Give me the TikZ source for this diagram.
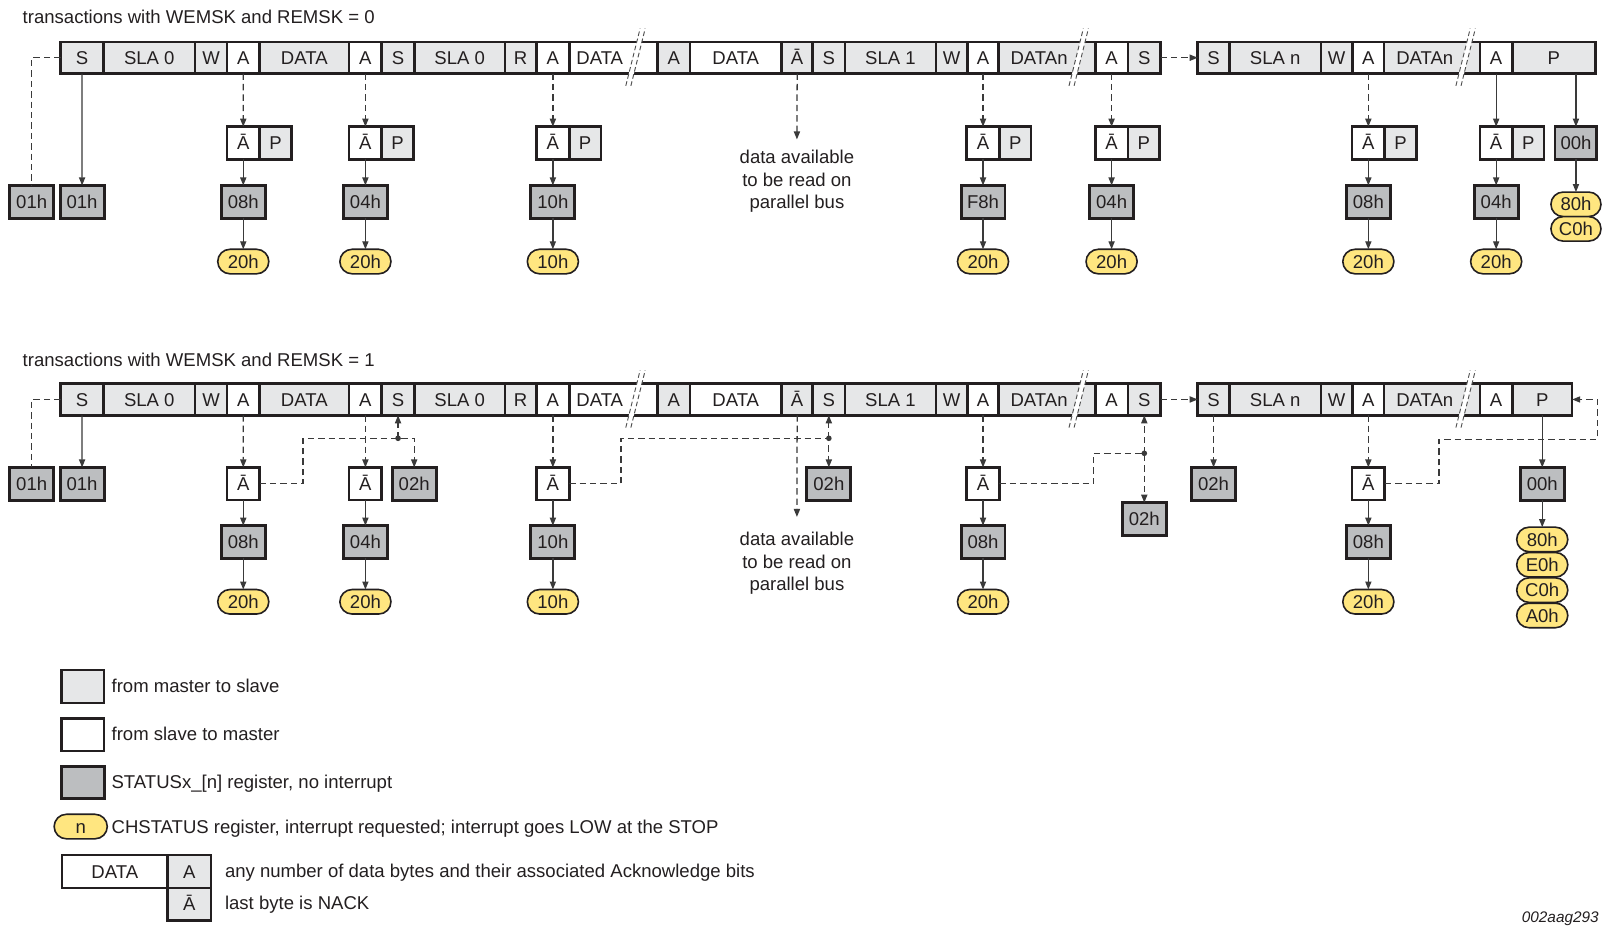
\documentclass[tikz,border=0pt]{standalone}
\usepackage{fontspec}
\setmainfont{Liberation Sans}
\usetikzlibrary{arrows.meta,shapes.misc}
\definecolor{lgray}{HTML}{E6E7E8}
\definecolor{sgray}{HTML}{BCBEC0}
\definecolor{yel}{HTML}{FFE680}
\definecolor{ink}{HTML}{231F20}
\definecolor{wirec}{HTML}{3A3A3A}
\definecolor{brkc}{HTML}{505050}
\newcommand\fs{\fontsize{13.9}{16.85}\selectfont}
\tikzset{
  cellbox/.style={draw=ink, text=ink, line width=1.9pt, rectangle, inner sep=0pt, outer sep=0pt,
    minimum height={31*0.766pt}, text height=9.95pt, text depth=0pt, font=\fs},
  abox/.style={cellbox, fill=white, minimum width={32*0.766pt}, minimum height={32*0.766pt}},
  pbox/.style={cellbox, fill=lgray, minimum width={31*0.766pt}, minimum height={32*0.766pt}, anchor=west},
  stat/.style={cellbox, fill=sgray, line width=2.2pt, minimum width={43*0.766pt}, minimum height={32*0.766pt}},
  oval/.style={draw=ink, text=ink, line width=1.2pt, fill=yel, rounded rectangle, inner sep=0pt, outer sep=0pt,
    minimum width={50*0.766pt}, minimum height={24*0.766pt}, text height=9.95pt, text depth=0pt, font=\fs},
  wire/.style={draw=wirec, line width=0.95pt},
  arr/.style={wire, -{Triangle[length=6pt,width=4.6pt]}},
  dsh/.style={dash pattern=on 4.8pt off 3pt},
  lbl/.style={text=ink, font=\fs, inner sep=0pt, anchor=west, text height=9.95pt, text depth=0pt},
  para/.style={text=ink, font=\fs, inner sep=0pt, align=center},
  brkline/.style={draw=brkc, line width=0.7pt, dash pattern=on 3.5pt off 2pt},
}
% break mark: #1 x centre, #2 row centre y
\newcommand\brk[2]{%
  \fill[white] (#1-6.75,#2+18.5) -- (#1+2.5,#2-18.5) -- (#1+7.5,#2-18.5) -- (#1-1.75,#2+18.5) -- cycle;
  \draw[brkline] (#1-9,#2+27.5) -- (#1+5,#2-28.5);
  \draw[brkline] (#1-4,#2+27.5) -- (#1+10,#2-28.5);
}
% a transaction row: #1 prefix, #2 centre y, #3 right end of P
\newcommand\mkrow[3]{%
  \foreach \n/\xa/\xb/\fc/\tx in {1/59.3/101.4/lgray/S, 2/101.4/190.8/lgray/SLA 0, 3/190.8/222.3/lgray/W,
      4/222.3/253.9/white/A, 5/253.9/341.7/lgray/DATA, 6/341.7/373.6/white/A, 7/373.6/405.6/lgray/S,
      8/405.6/494.2/lgray/SLA 0, 9/494.2/525/lgray/R, 10/525/557.3/white/A, 11/557.3/643.7/white/{},
      12/643.7/675.2/lgray/A, 13/675.2/765/white/DATA, 14/765/795.5/lgray/Ā, 15/795.5/827/lgray/S,
      16/827/916/lgray/SLA 1, 17/916/947/lgray/W, 18/947/977.3/white/A, 19/977.3/1072/lgray/{},
      20/1072/1104/white/A, 21/1104/1136/lgray/S, 22/1172.3/1203.3/lgray/S, 23/1203.3/1292.9/lgray/SLA n,
      24/1292.9/1323.8/lgray/W, 25/1323.8/1354.8/white/A, 26/1354.8/1448.6/lgray/{}, 27/1448.6/1480.2/white/A,
      28/1480.2/#3/lgray/P}
  {\node[cellbox, fill=\fc, minimum width={(\xb-\xa)*0.766pt}] (#1\n) at ({(\xa+\xb)/2},#2) {\tx};}
  \node[lbl, anchor=center] (#1d11) at (587,#2) {DATA};
  \node[lbl, anchor=center] (#1d19) at (1017,#2) {DATAn};
  \node[lbl, anchor=center] (#1d26) at (1394.5,#2) {DATAn};
  \brk{621.5}{#2}
  \brk{1055.3}{#2}
  \brk{1434}{#2}
}
\begin{document}
\begin{tikzpicture}[x=0.766pt,y=-0.766pt]
\useasboundingbox (0,0) rectangle (1568,908.3);
\fill[white] (0,0) rectangle (1568,908.3);

% ---------------- titles
\node[lbl] (title1) at (22,17) {transactions with WEMSK and REMSK = 0};
\node[lbl] (title2) at (22,352) {transactions with WEMSK and REMSK = 1};

% ---------------- upper transaction
\mkrow{t}{56.5}{1561.6}
\node[stat] (ts0) at (31,197.5) {01h};
\node[stat] (ts1) at (80.35,197.5) {01h};
\foreach \k/\x/\s/\o in {4/238.1/08h/20h, 6/357.65/04h/20h, 10/541.15/10h/10h, 18/962.15/F8h/20h,
    20/1088/04h/20h, 25/1339.3/08h/20h, 27/1464.4/04h/20h} {
  \node[abox] (tn\k) at (\x,140) {Ā};
  \node[pbox] (tp\k) at (tn\k.east) {P};
  \node[stat] (ts\k) at (\x,197.5) {\s};
  \node[oval] (to\k) at (\x,256) {\o};
}
\node[stat, minimum width={41*0.766pt}] (ts28) at (1542.5,140) {00h};
\node[oval, minimum width={49*0.766pt}] (to28a) at (1542.5,200) {80h};
\node[oval, minimum width={49*0.766pt}] (to28b) at (1542.5,224) {C0h};
\coordinate (ta14) at (780,136.5);
\node[para] (tdata) at (780,177.7) {data available\\to be read on\\parallel bus};

\draw[wire,dsh] (t1.west) -| (ts0.north);
\draw[arr] (t1.south) -- (ts1.north);
\foreach \k in {4,6,10,18,20,25} \draw[arr,dsh] (t\k.south) -- (tn\k.north);
\draw[arr] (t27.south) -- (tn27.north);
\foreach \k in {4,6,10,18,20,25,27} {
  \draw[arr] (tn\k.south) -- (ts\k.north);
  \draw[arr] (ts\k.south) -- (to\k.north);
}
\draw[arr] (ts28.north |- t28.south) -- (ts28.north);
\draw[arr] (ts28.south) -- (to28a.north);
\draw[arr,dsh] (t21.east) -- (t22.west);
\draw[arr,dsh] (t14.south) -- (ta14);

% ---------------- lower transaction
\mkrow{b}{391}{1538.8}
\node[stat] (bs0) at (31,473.5) {01h};
\node[stat] (bs1) at (80.35,473.5) {01h};
\foreach \k/\x/\s/\o in {4/238.1/08h/20h, 6/357.65/04h/20h, 10/541.15/10h/10h, 18/962.15/08h/20h,
    25/1339.3/08h/20h} {
  \node[abox] (bn\k) at (\x,473.5) {Ā};
  \node[stat] (bs\k) at (\x,530.5) {\s};
  \node[oval] (bo\k) at (\x,589) {\o};
}
\node[stat] (bx7) at (405.4,473.5) {02h};
\node[stat] (bx15) at (811.25,473.5) {02h};
\node[stat] (bx21) at (1120,508) {02h};
\node[stat] (bx22) at (1187.8,473.5) {02h};
\node[stat] (bs28) at (1509.5,473.5) {00h};
\node[oval] (bo28a) at (1509.5,528) {80h};
\node[oval] (bo28b) at (1509.5,552.8) {E0h};
\node[oval] (bo28c) at (1509.5,577.6) {C0h};
\node[oval] (bo28d) at (1509.5,602.4) {A0h};
\coordinate (ba14) at (780,506);
\node[para] (bdata) at (780,551.7) {data available\\to be read on\\parallel bus};

\coordinate (k7) at (296.6,429);
\coordinate (k10) at (607.7,429);
\coordinate (k18) at (1070,443.7);
\coordinate (k25a) at (1408.5,430);
\coordinate (k25b) at (1563.5,391);
\coordinate (j7) at (b7.south |- k7);
\coordinate (j15) at (b15.south |- k10);
\coordinate (j21) at (b21.south |- k18);

\draw[wire,dsh] (b1.west) -| (bs0.north);
\draw[arr] (b1.south) -- (bs1.north);
\foreach \k in {4,6,10,18,25} {
  \draw[arr,dsh] (b\k.south) -- (bn\k.north);
  \draw[arr] (bn\k.south) -- (bs\k.north);
  \draw[arr] (bs\k.south) -- (bo\k.north);
}
\draw[arr,dsh] (bn4.east) -| (k7) -| (bx7.north);
\draw[arr,dsh] (j7) -- (b7.south);
\draw[arr,dsh] (bn10.east) -| (k10) -| (bx15.north);
\draw[arr,dsh] (j15) -- (b15.south);
\draw[arr,dsh] (bn18.east) -| (k18) -| (bx21.north);
\draw[arr,dsh] (j21) -- (b21.south);
\draw[arr,dsh] (bn25.east) -| (k25a) -| (k25b) -- (b28.east);
\draw[arr,dsh] (b22.south) -- (bx22.north);
\draw[arr,dsh] (b21.east) -- (b22.west);
\draw[arr,dsh] (b14.south) -- (ba14);
\draw[arr] (b28.south) -- (bs28.north);
\draw[arr] (bs28.south) -- (bo28a.north);
\foreach \j in {j7,j15,j21} \fill[wirec] (\j) circle[radius=2.1pt];

% ---------------- legend
\node[cellbox, fill=lgray, minimum width={42*0.766pt}, minimum height={32*0.766pt}] (lg1) at (81,672) {};
\node[lbl] (lt1) at (109,671) {from master to slave};
\node[cellbox, fill=white, minimum width={42*0.766pt}, minimum height={32*0.766pt}] (lg2) at (81,719) {};
\node[lbl] (lt2) at (109,718) {from slave to master};
\node[stat, minimum width={42*0.766pt}] (lg3) at (81,766) {};
\node[lbl] (lt3) at (109,765) {STATUSx\_[n] register, no interrupt};
\node[oval, minimum width={52*0.766pt}] (lg4) at (79,809) {n};
\node[lbl] (lt4) at (109,809) {CHSTATUS register, interrupt requested; interrupt goes LOW at the STOP};
\node[cellbox, fill=white, minimum width={103.3*0.766pt}, minimum height={32*0.766pt}] (lg5) at (112.35,853) {DATA};
\node[cellbox, fill=lgray, minimum width={42.7*0.766pt}, minimum height={32*0.766pt}] (lg6) at (185.35,853) {A};
\node[cellbox, fill=lgray, minimum width={42.7*0.766pt}, minimum height={32*0.766pt}] (lg7) at (185.35,885) {Ā};
\node[lbl] (lt5) at (220,852) {any number of data bytes and their associated Acknowledge bits};
\node[lbl] (lt6) at (220,884) {last byte is NACK};

\node[text=ink, font=\fontsize{11.5}{13}\selectfont\itshape, anchor=east, inner sep=0pt] (fid) at (1565,899) {002aag293};
\end{tikzpicture}
\end{document}
